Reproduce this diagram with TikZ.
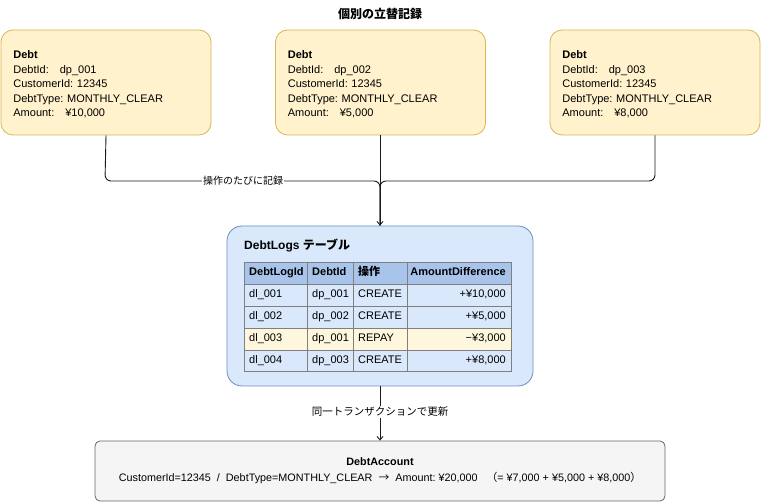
\documentclass[tikz,border=0pt]{standalone}
\usepackage{fontspec}
\setmainfont{Liberation Sans}
\newfontfamily\jp{Noto Sans CJK JP}
\usetikzlibrary{arrows.meta}
\frenchspacing
\definecolor{yfill}{HTML}{FFF2CC}
\definecolor{ystroke}{HTML}{D6B656}
\definecolor{bfill}{HTML}{DAE8FC}
\definecolor{bstroke}{HTML}{6C8EBF}
\definecolor{hfill}{HTML}{A9C4EB}
\definecolor{rfill}{HTML}{FFF7DD}
\definecolor{gfill}{HTML}{F5F5F5}
\definecolor{gstroke}{HTML}{666666}
\definecolor{gridc}{HTML}{7F7F7F}
\definecolor{linec}{HTML}{1A1A1A}
\tikzset{
  debtbox/.style={draw=ystroke, fill=yfill, rounded corners=12pt, line width=0.8pt,
    minimum width=210pt, minimum height=105pt, text width=186pt, inner xsep=12pt,
    align=left, font=\frenchspacing\fontsize{11}{14.6}\selectfont},
  logbox/.style={draw=bstroke, fill=bfill, rounded corners=15pt, line width=0.8pt,
    minimum width=306pt, minimum height=160pt},
  accbox/.style={draw=gstroke, fill=gfill, rounded corners=5pt, line width=0.8pt,
    minimum width=570pt, minimum height=60pt, align=center,
    font=\frenchspacing\fontsize{10.8}{16}\selectfont},
  conn/.style={draw=linec, line width=0.9pt, rounded corners=6pt},
  arr/.style={conn, -{Straight Barb[length=3.5pt,width=6pt]}},
  lbl/.style={fill=white, inner sep=1pt},
  cell/.style={inner sep=0pt, text height=8pt, text depth=2.5pt, font=\fontsize{11}{13}\selectfont},
  hcell/.style={cell, font=\fontsize{11}{13}\selectfont\bfseries},
}
\begin{document}
\begin{tikzpicture}[x=1pt, y=-1pt]
\useasboundingbox (0,0) rectangle (761,502);

\node[font=\jp\bfseries\fontsize{12}{14}\selectfont] (title) at (380,14) {個別の立替記録};

\node[debtbox] (d1) at (106,82.5) {};
\node[debtbox] (d2) at (380.5,82.5) {};
\node[debtbox] (d3) at (655,82.5) {};
\node[debtbox, draw=none, fill=none, anchor=west] (t1) at (1,84.5) {\textbf{Debt}\\DebtId:\ \ \ dp\_001\\CustomerId: 12345\\DebtType: MONTHLY\_CLEAR\\Amount:\ \ \ ¥10,000};
\node[debtbox, draw=none, fill=none, anchor=west] (t2) at (275.5,84.5) {\textbf{Debt}\\DebtId:\ \ \ dp\_002\\CustomerId: 12345\\DebtType: MONTHLY\_CLEAR\\Amount:\ \ \ ¥5,000};
\node[debtbox, draw=none, fill=none, anchor=west] (t3) at (550,84.5) {\textbf{Debt}\\DebtId:\ \ \ dp\_003\\CustomerId: 12345\\DebtType: MONTHLY\_CLEAR\\Amount:\ \ \ ¥8,000};

\node[logbox] (logs) at (380,306) {};
\node[accbox] (acc) at (380,471) {\textbf{DebtAccount}\\CustomerId=12345\ \ /\ \ DebtType=MONTHLY\_CLEAR\ \ {\jp →}\ \ Amount: ¥20,000\ \ \ {\jp （}= ¥7,000 + ¥5,000 + ¥8,000{\jp ）}};

% connectors
\coordinate (m) at (380,181);
\draw[conn] (d1.south) -- (105,181) -- (m) -- (logs.north);
\draw[conn] (d3.south) -- (655,181) -- (m) -- (logs.north);
\draw[arr] (380,135) -- (logs.north);
\node[lbl, font=\jp\fontsize{10}{12}\selectfont] (l1) at (243,181) {操作のたびに記録};

\draw[arr, rounded corners=0pt] (logs.south) -- (acc.north);
\node[lbl, font=\jp\fontsize{10.5}{12}\selectfont] (l2) at (380,412) {同一トランザクションで更新};

% table inside logs
\node[anchor=west, inner sep=0pt, font=\fontsize{12}{14}\selectfont\bfseries] (ltitle) at (244,246) {DebtLogs {\jp テーブル}};

\fill[hfill] (244,262) rectangle (511,284);
\fill[bfill] (244,284) rectangle (511,328);
\fill[rfill] (244,328) rectangle (511,350);
\fill[bfill] (244,350) rectangle (511,371);
\draw[gridc, line width=0.8pt] (244,262) rectangle (511,371);
\foreach \yy in {284,306,328,350} \draw[gridc, line width=0.8pt] (244,\yy) -- (511,\yy);
\foreach \xx in {307,353,407} \draw[gridc, line width=0.8pt] (\xx,262) -- (\xx,371);

\node[hcell, anchor=west] (h1) at (249,273) {DebtLogId};
\node[hcell, anchor=west] (h2) at (312,273) {DebtId};
\node[hcell, anchor=west] (h3) at (358,273) {\jp 操作};
\node[hcell, anchor=east] (h4) at (506,273) {AmountDifference};

\foreach \r/\yc/\a/\b/\c/\d in {1/295/dl\_001/dp\_001/CREATE/+¥10\mbox{,}000,
                                2/317/dl\_002/dp\_002/CREATE/+¥5\mbox{,}000,
                                3/339/dl\_003/dp\_001/REPAY/−¥3\mbox{,}000,
                                4/360.5/dl\_004/dp\_003/CREATE/+¥8\mbox{,}000}{
  \node[cell, anchor=west] (r\r a) at (249,\yc) {\a};
  \node[cell, anchor=west] (r\r b) at (312,\yc) {\b};
  \node[cell, anchor=west] (r\r c) at (358,\yc) {\c};
  \node[cell, anchor=east] (r\r d) at (506,\yc) {\d};
}
\end{tikzpicture}
\end{document}
